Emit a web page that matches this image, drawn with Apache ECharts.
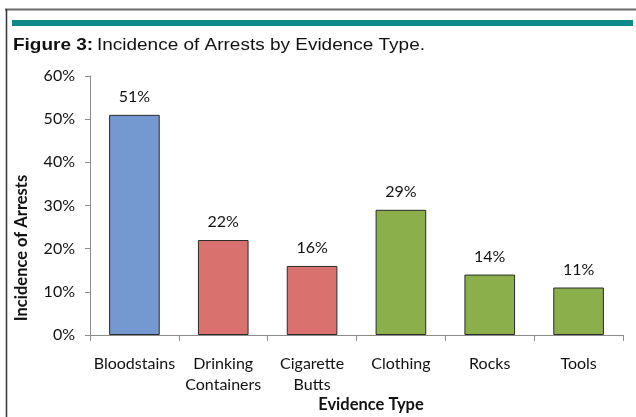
<!DOCTYPE html>
<html>
<head>
<meta charset="utf-8">
<script src="https://cdn.jsdelivr.net/npm/echarts@6/dist/echarts.min.js"></script>
<style>
  html, body { margin: 0; padding: 0; background: #fff; }
  #chart { width: 636px; height: 417px; }
</style>
</head>
<body>
<div id="chart"></div>
<script>
// Evidence categories and arrest incidence (%)
const categories = ['Bloodstains', 'Drinking\nContainers', 'Cigarette\nButts', 'Clothing', 'Rocks', 'Tools'];
const incidence = [51, 22, 16, 29, 14, 11];
const barColors = ['#7399d0', '#d9716f', '#d9716f', '#8bb04b', '#8bb04b', '#8bb04b'];
const yTicks = [0, 10, 20, 30, 40, 50, 60];

const fontFace = 'Lato, "Open Sans", sans-serif';

const chart = echarts.init(document.getElementById('chart'), null, { renderer: 'canvas' });

chart.setOption({
  animation: false,
  backgroundColor: '#ffffff',
  grid: { left: 90, right: 13, top: 76, bottom: 82, containLabel: false },
  graphic: [
    // frame lines along top and left
    { type: 'line', shape: { x1: 5, y1: 9.5, x2: 636, y2: 9.5 }, style: { stroke: '#6a6a6a', lineWidth: 2 } },
    { type: 'line', shape: { x1: 6.5, y1: 9, x2: 6.5, y2: 417 }, style: { stroke: '#333', lineWidth: 1.5 } },
    // teal rule under the frame
    { type: 'rect', shape: { x: 12, y: 20, width: 621, height: 6 }, style: { fill: '#0e8a8a' } },
    // figure caption
    {
      type: 'text', x: 13, y: 45, scaleX: 1.15,
      style: {
        text: '{b|Figure 3:} {n|Incidence of Arrests by Evidence Type.}',
        verticalAlign: 'middle',
        rich: {
          b: { fontFamily: 'Liberation Sans, Arial, sans-serif', fontWeight: 'bold', fontSize: 16.5, fill: '#111' },
          n: { fontFamily: 'Liberation Sans, Arial, sans-serif', fontSize: 16.5, fill: '#111' }
        }
      }
    },
    // y axis title
    {
      type: 'text', x: 22, y: 248, rotation: Math.PI / 2,
      style: {
        text: 'Incidence of Arrests', fontFamily: fontFace, fontWeight: 'bold', fontSize: 16.5,
        fill: '#111', align: 'center', verticalAlign: 'middle'
      }
    },
    // x axis title
    {
      type: 'text', x: 371, y: 405,
      style: {
        text: 'Evidence Type', fontFamily: fontFace, fontWeight: 'bold', fontSize: 16.5,
        fill: '#111', align: 'center', verticalAlign: 'middle'
      }
    }
  ],
  xAxis: {
    type: 'category',
    data: categories,
    axisLine: { lineStyle: { color: '#8c8c8c', width: 1 } },
    axisTick: { show: true, alignWithLabel: false, length: 6, lineStyle: { color: '#8c8c8c' } },
    axisLabel: {
      interval: 0, margin: 18, color: '#111', fontFamily: fontFace, fontSize: 16, lineHeight: 21
    },
    splitLine: { show: false }
  },
  yAxis: {
    type: 'value',
    min: 0, max: 60, interval: 10,
    axisLine: { show: true, lineStyle: { color: '#8c8c8c', width: 1 } },
    axisTick: { show: true, length: 5, lineStyle: { color: '#8c8c8c' } },
    axisLabel: {
      margin: 15, color: '#111', fontFamily: fontFace, fontSize: 16,
      formatter: v => yTicks.includes(v) ? v + '%' : ''
    },
    splitLine: { show: false }
  },
  series: [{
    type: 'bar',
    barCategoryGap: '43%',
    data: incidence.map((v, i) => ({
      value: v,
      itemStyle: { color: barColors[i], borderColor: '#2b2b2b', borderWidth: 1 }
    })),
    label: {
      show: true, position: 'top', distance: 10,
      formatter: p => p.value + '%',
      color: '#111', fontFamily: fontFace, fontSize: 16
    }
  }]
});
</script>
</body>
</html>
